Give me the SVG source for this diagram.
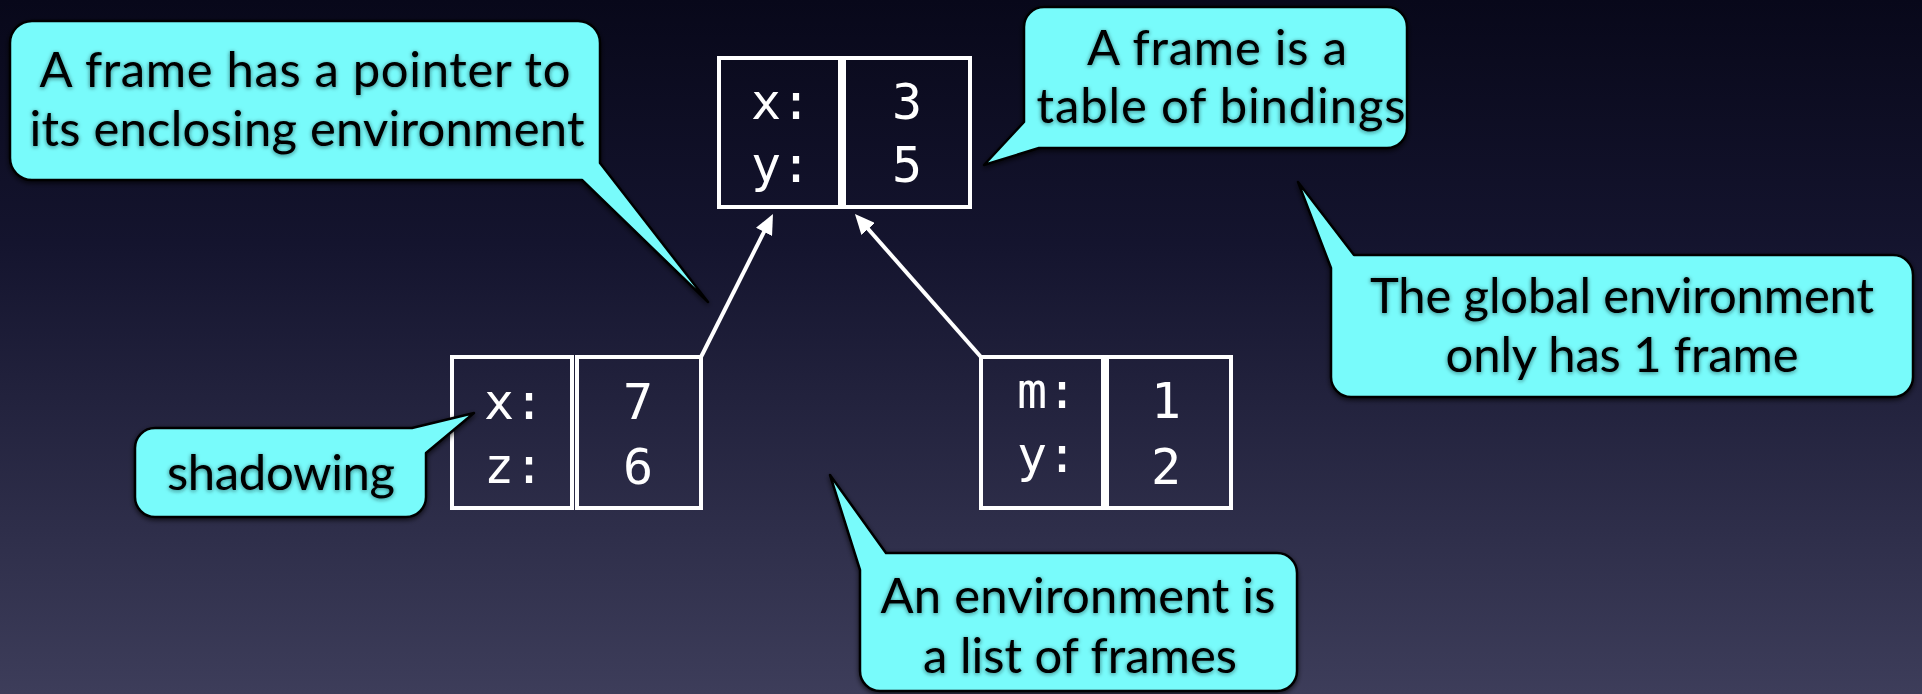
<svg xmlns="http://www.w3.org/2000/svg" width="1922" height="694" viewBox="0 0 1922 694">
<defs>
<linearGradient id="bg" x1="0" y1="0" x2="0" y2="1">
<stop offset="0" stop-color="#08081a"/>
<stop offset="0.35" stop-color="#14142e"/>
<stop offset="1" stop-color="#3d3d5a"/>
</linearGradient>
<filter id="tshadow" x="-10%" y="-30%" width="120%" height="160%">
<feDropShadow dx="0" dy="1" stdDeviation="2.2" flood-color="#002020" flood-opacity="0.6"/>
</filter>
<filter id="bshadow" x="-10%" y="-10%" width="120%" height="120%">
<feDropShadow dx="0" dy="2" stdDeviation="2.5" flood-color="#000" flood-opacity="0.7"/>
</filter>
<marker id="arrow" viewBox="0 0 20 18" markerWidth="20" markerHeight="18" refX="8" refY="9" orient="auto" markerUnits="userSpaceOnUse">
<path d="M0,0 L20,9 L0,18 Z" fill="#ffffff"/>
</marker>
<style>
.bubble{fill:#78fbfb;stroke:#000;stroke-width:2.5;stroke-linejoin:round;filter:url(#bshadow)}
.btext{font-family:Lato,"Open Sans","Liberation Sans",sans-serif;font-size:49px;fill:#000;text-anchor:middle;filter:url(#tshadow)}
.cell{fill:none;stroke:#fff;stroke-width:4}
.mono{font-family:"DejaVu Sans Mono","Liberation Mono",monospace;font-size:50px;fill:#fff;text-anchor:middle}
.conn{stroke:#fff;stroke-width:4;fill:none;marker-end:url(#arrow)}
</style>
</defs>
<rect x="0" y="0" width="1922" height="694" fill="url(#bg)"/>

<g id="frame-global">
<rect class="cell" x="719" y="58" width="121" height="149"/>
<rect class="cell" x="844" y="58" width="126" height="149"/>
<text class="mono" x="781" y="119">x:</text>
<text class="mono" x="781" y="182">y:</text>
<text class="mono" x="907" y="119">3</text>
<text class="mono" x="907" y="182">5</text>
</g>

<g id="frame-left">
<rect class="cell" x="452" y="357" width="120" height="151"/>
<rect class="cell" x="577" y="357" width="124" height="151"/>
<text class="mono" x="514" y="419">x:</text>
<text class="mono" x="514" y="483">z:</text>
<text class="mono" x="638" y="419">7</text>
<text class="mono" x="638" y="484">6</text>
</g>

<g id="frame-right">
<rect class="cell" x="981" y="357" width="122" height="151"/>
<rect class="cell" x="1107" y="357" width="124" height="151"/>
<text class="mono" x="1047" y="408">m:</text>
<text class="mono" x="1047" y="472">y:</text>
<text class="mono" x="1166" y="418">1</text>
<text class="mono" x="1166" y="484">2</text>
</g>

<g id="connectors">
<path class="conn" d="M701,357 L767.6,224.7"/>
<path class="conn" d="M981,357 L862.9,223"/>
</g>

<g id="bubble-pointer">
<path class="bubble" d="M32,21 H578 A22,22 0 0 1 600,43 V163 L708,302 L582,180 H32 A22,22 0 0 1 10,158 V43 A22,22 0 0 1 32,21 Z"/>
<text class="btext" x="305" y="87" textLength="531">A frame has a pointer to</text>
<text class="btext" x="307" y="146" textLength="555">its enclosing environment</text>
</g>

<g id="bubble-table">
<path class="bubble" d="M1044,7 H1387 A20,20 0 0 1 1407,27 V128 A20,20 0 0 1 1387,148 H1039 L984,165 L1024,122 V27 A20,20 0 0 1 1044,7 Z"/>
<text class="btext" x="1217" y="65" textLength="260">A frame is a</text>
<text class="btext" x="1221" y="123" textLength="369">table of bindings</text>
</g>

<g id="bubble-global">
<path class="bubble" d="M1354,255 H1893 A20,20 0 0 1 1913,275 V377 A20,20 0 0 1 1893,397 H1351 A20,20 0 0 1 1331,377 V268 L1298,182 Z"/>
<text class="btext" x="1622" y="313" textLength="504">The global environment</text>
<text class="btext" x="1622" y="372" textLength="353">only has 1 frame</text>
</g>

<g id="bubble-shadowing">
<path class="bubble" d="M155,428 H412 L474,413 L426,453 V497 A20,20 0 0 1 406,517 H155 A20,20 0 0 1 135,497 V448 A20,20 0 0 1 155,428 Z"/>
<text class="btext" x="281" y="490" textLength="228">shadowing</text>
</g>

<g id="bubble-list">
<path class="bubble" d="M886,553 H1277 A20,20 0 0 1 1297,573 V671 A20,20 0 0 1 1277,691 H880 A20,20 0 0 1 860,671 V570 L830,475 Z"/>
<text class="btext" x="1078" y="613" textLength="395">An environment is</text>
<text class="btext" x="1080" y="673" textLength="314">a list of frames</text>
</g>
</svg>
